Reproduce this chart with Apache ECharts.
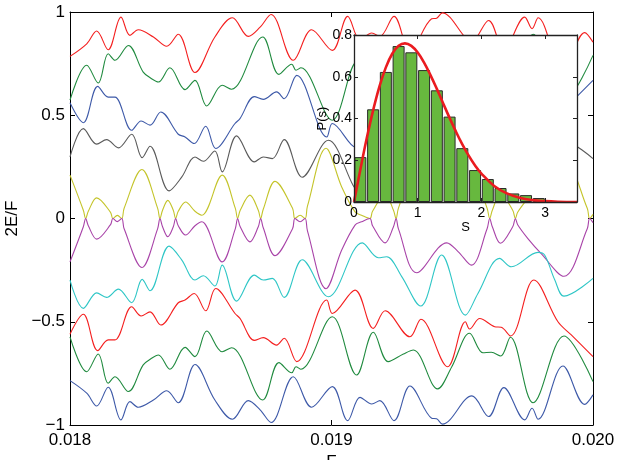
<!DOCTYPE html>
<html><head><meta charset="utf-8">
<script src="https://cdn.jsdelivr.net/npm/echarts@6/dist/echarts.min.js"></script>
<style>html,body{margin:0;padding:0;background:#fff}#c{width:618px;height:460px}</style>
</head><body><div id="c"></div>
<script>
// ---- main plot data: F values (x) and 2E/F values (y) ----
const fA = [0.018000,0.018051,0.018060,0.018070,0.018102,0.018155,0.018164,0.018181,0.018198,0.018207,0.018275,0.018335,0.018344,0.018354,0.018374,0.018395,0.018404,0.018414,0.018442,0.018478,0.018504,0.018582,0.018632,0.018641,0.018651,0.018688,0.018720,0.018729,0.018739,0.018784,0.018851,0.018860,0.018880,0.018899,0.018908,0.018979,0.019039,0.019090,0.019115,0.019147,0.019157,0.019205,0.019237,0.019247,0.019256,0.019326,0.019441,0.019484,0.019535,0.019595,0.019605,0.019615,0.019646,0.019693,0.019703,0.019712,0.019751,0.019802,0.019889,0.019978,0.019987,0.020000];
const vMagenta = [-0.21,-0.04,0,-0.035,-0.10,-0.03,0,-0.015,0,-0.05,-0.237,-0.05,0,-0.04,-0.088,-0.04,0,-0.035,-0.08,-0.035,-0.016,-0.21,-0.05,0,-0.04,-0.113,-0.04,0,-0.045,-0.18,-0.05,0,-0.016,0,-0.06,-0.34,-0.153,-0.032,-0.016,0,-0.035,-0.118,-0.04,0,-0.05,-0.263,-0.118,-0.16,-0.226,-0.05,0,-0.04,-0.12,-0.04,0,-0.03,-0.097,-0.17,-0.28,-0.05,0,-0.02];
const vYellow = [0.21,0.04,0,0.035,0.10,0.03,0,0.015,0,0.05,0.237,0.05,0,0.04,0.088,0.04,0,0.035,0.08,0.035,0.016,0.21,0.05,0,0.04,0.113,0.04,0,0.045,0.18,0.05,0,0.016,0,0.06,0.34,0.153,0.032,0.016,0,0.035,0.118,0.04,0,0.05,0.263,0.118,0.16,0.226,0.05,0,0.04,0.12,0.04,0,0.03,0.097,0.17,0.28,0.05,0,0.02];

const fB = [0.018000,0.018051,0.018102,0.018140,0.018185,0.018236,0.018276,0.018306,0.018379,0.018427,0.018478,0.018510,0.018554,0.018582,0.018637,0.018705,0.018739,0.018774,0.018819,0.018888,0.018988,0.019118,0.019179,0.019211,0.019268,0.019341,0.019421,0.019512,0.019560,0.019643,0.019688,0.019790,0.019815,0.019854,0.019889,0.020000];
const vCyan = [-0.298,-0.435,-0.36,-0.382,-0.342,-0.408,-0.295,-0.35,-0.134,-0.2,-0.298,-0.277,-0.327,-0.226,-0.40,-0.274,-0.298,-0.29,-0.382,-0.2,-0.379,-0.118,-0.19,-0.185,-0.28,-0.424,-0.177,-0.468,-0.363,-0.193,-0.234,-0.164,-0.177,-0.298,-0.376,-0.29];
const vGray = [0.298,0.435,0.36,0.382,0.342,0.408,0.295,0.35,0.134,0.2,0.298,0.277,0.327,0.226,0.40,0.274,0.298,0.29,0.382,0.2,0.379,0.118,0.19,0.185,0.28,0.424,0.177,0.468,0.363,0.193,0.234,0.164,0.177,0.298,0.376,0.29];

const fC = [0.018000,0.018051,0.018106,0.018146,0.018172,0.018236,0.018272,0.018306,0.018347,0.018414,0.018440,0.018475,0.018519,0.018557,0.018631,0.018650,0.018705,0.018739,0.018790,0.018819,0.018867,0.018982,0.019003,0.019090,0.019160,0.019205,0.019300,0.019342,0.019444,0.019512,0.019528,0.019567,0.019624,0.019649,0.019685,0.019774,0.019866,0.019917,0.020000];
const vRedLow = [-0.56,-0.464,-0.64,-0.588,-0.588,-0.427,-0.472,-0.452,-0.516,-0.408,-0.395,-0.363,-0.447,-0.339,-0.46,-0.484,-0.59,-0.577,-0.613,-0.58,-0.693,-0.395,-0.46,-0.347,-0.532,-0.447,-0.573,-0.488,-0.718,-0.5,-0.535,-0.484,-0.524,-0.527,-0.569,-0.298,-0.5,-0.564,-0.669];
const vBlueHigh = [0.56,0.464,0.64,0.588,0.588,0.427,0.472,0.452,0.516,0.408,0.395,0.363,0.447,0.339,0.46,0.484,0.59,0.577,0.613,0.58,0.693,0.395,0.46,0.347,0.532,0.447,0.573,0.488,0.718,0.5,0.535,0.484,0.524,0.527,0.569,0.298,0.5,0.564,0.669];

const fD = [0.018000,0.018064,0.018108,0.018146,0.018172,0.018223,0.018280,0.018312,0.018338,0.018382,0.018440,0.018478,0.018523,0.018582,0.018618,0.018737,0.018799,0.018848,0.018864,0.018883,0.019003,0.019096,0.019160,0.019217,0.019275,0.019313,0.019406,0.019460,0.019528,0.019579,0.019611,0.019647,0.019684,0.019771,0.019889,0.020000];
const vGreenLow = [-0.573,-0.742,-0.656,-0.798,-0.766,-0.838,-0.709,-0.677,-0.661,-0.73,-0.624,-0.669,-0.545,-0.645,-0.626,-0.879,-0.698,-0.747,-0.718,-0.73,-0.476,-0.758,-0.551,-0.693,-0.656,-0.637,-0.825,-0.718,-0.556,-0.65,-0.648,-0.666,-0.575,-0.892,-0.569,-0.79];
const vGreenHigh = [0.573,0.742,0.656,0.798,0.766,0.838,0.709,0.677,0.661,0.73,0.624,0.669,0.545,0.645,0.626,0.879,0.698,0.747,0.718,0.73,0.476,0.758,0.551,0.693,0.656,0.637,0.825,0.718,0.556,0.65,0.648,0.666,0.575,0.892,0.569,0.79];

const fE = [0.018000,0.018064,0.018102,0.018146,0.018195,0.018229,0.018261,0.018319,0.018370,0.018414,0.018478,0.018554,0.018621,0.018682,0.018727,0.018769,0.018854,0.018924,0.019003,0.019062,0.019109,0.019154,0.019185,0.019239,0.019300,0.019383,0.019402,0.019424,0.019537,0.019601,0.019659,0.019739,0.019767,0.019790,0.019885,0.019968,0.020000];
const vBlueLow = [-0.785,-0.846,-0.908,-0.817,-0.975,-0.887,-0.914,-0.879,-0.834,-0.892,-0.707,-0.879,-0.972,-0.882,-0.927,-0.988,-0.766,-0.914,-0.814,-0.979,-0.866,-0.898,-0.882,-0.979,-0.811,-0.967,-0.97,-0.996,-0.859,-0.959,-0.819,-0.975,-0.919,-0.972,-0.714,-0.9,-0.854];
const vRedHigh = [0.785,0.846,0.908,0.817,0.975,0.887,0.914,0.879,0.834,0.892,0.707,0.879,0.972,0.882,0.927,0.988,0.766,0.914,0.814,0.979,0.866,0.898,0.882,0.979,0.811,0.967,0.97,0.996,0.859,0.959,0.819,0.975,0.919,0.972,0.714,0.9,0.854];

const mainXTickLabels = ['0.018', '0.019', '0.020'];
const mainYTickLabels = ['\u22121', '\u22120.5', '0', '0.5', '1'];

// ---- inset data: level spacing histogram P(s) ----
const sCenters = [0.1,0.3,0.5,0.7,0.9,1.1,1.3,1.5,1.7,1.9,2.1,2.3,2.5,2.7,2.9];
const histP = [0.215,0.444,0.623,0.747,0.717,0.632,0.535,0.409,0.258,0.153,0.11,0.067,0.041,0.033,0.019];
const sCurve = [0,0.1,0.2,0.3,0.4,0.5,0.6,0.7,0.8,0.9,1.0,1.1,1.2,1.3,1.4,1.5,1.6,1.7,1.8,1.9,2.0,2.2,2.4,2.6,2.8,3.0,3.2,3.5];
const pCurve = [0,0.156,0.305,0.439,0.554,0.645,0.710,0.748,0.760,0.748,0.716,0.668,0.608,0.542,0.472,0.403,0.337,0.276,0.222,0.175,0.136,0.077,0.041,0.020,0.009,0.004,0.0015,0.0003];
const insetXTickLabels = ['0', '1', '2', '3'];
const insetYTickLabels = ['0', '0.2', '0.4', '0.6', '0.8'];

const FONT = 'Liberation Sans, Arial, Helvetica, sans-serif';
const pairs = (f, v) => f.map((x, i) => [x, v[i]]);
const mainLine = (name, f, v, color) => ({
  name, type: 'line', xAxisIndex: 0, yAxisIndex: 0, data: pairs(f, v),
  symbol: 'none', showSymbol: false, smooth: 0.35,
  lineStyle: { color, width: 1.1 }, itemStyle: { color }, z: 2
});
const tickIdx = (labels, min, step) => (v) => {
  const i = Math.round((v - min) / step);
  return (Math.abs(v - (min + i * step)) < step * 1e-3 && labels[i] !== undefined) ? labels[i] : '';
};

const COL = {
  red: '#f41f1f', green: '#1f8a3e', blue: '#3d59a8', gray: '#5a5a5a',
  yellow: '#c4c42a', magenta: '#a843a8', cyan: '#2ec6c6'
};

const axisBase = {
  axisLine: { show: true, onZero: false, lineStyle: { color: '#000', width: 1 } },
  axisTick: { show: true, inside: true, length: 5, lineStyle: { color: '#000' } },
  splitLine: { show: false }
};
const insetAxisBase = {
  axisLine: { show: true, onZero: false, lineStyle: { color: '#222', width: 1.3 } },
  axisTick: { show: true, inside: true, length: 4, lineStyle: { color: '#222' } },
  splitLine: { show: false }, z: 20
};

const option = {
  animation: false,
  backgroundColor: '#fff',
  textStyle: { fontFamily: FONT },
  grid: [
    { left: 70, right: 25, top: 12, bottom: 35, show: false, containLabel: false, outerBoundsMode: 'none' },
    { left: 354, right: 41, top: 35, bottom: 258, show: true, backgroundColor: '#fff', borderWidth: 0, z: 10, containLabel: false, outerBoundsMode: 'none' }
  ],
  xAxis: [
    Object.assign({}, axisBase, {
      type: 'value', gridIndex: 0, position: 'bottom', min: 0.018, max: 0.020, interval: 0.001,
      name: 'F', nameLocation: 'middle', nameGap: 25,
      nameTextStyle: { fontSize: 17, color: '#000', fontFamily: FONT },
      axisLabel: { fontSize: 17, color: '#000', margin: 7, fontFamily: FONT, formatter: tickIdx(mainXTickLabels, 0.018, 0.001) }
    }),
    Object.assign({}, axisBase, {
      type: 'value', gridIndex: 0, position: 'top', min: 0.018, max: 0.020, interval: 0.001,
      axisLabel: { show: false }
    }),
    Object.assign({}, insetAxisBase, {
      type: 'value', gridIndex: 1, position: 'bottom', min: 0, max: 3.5, interval: 1,
      name: 'S', nameLocation: 'middle', nameGap: 17,
      nameTextStyle: { fontSize: 13, color: '#000', fontFamily: FONT },
      axisLabel: { fontSize: 14, color: '#000', margin: 4, fontFamily: FONT, formatter: tickIdx(insetXTickLabels, 0, 1) }
    }),
    Object.assign({}, insetAxisBase, {
      type: 'value', gridIndex: 1, position: 'top', min: 0, max: 3.5, interval: 1,
      axisLabel: { show: false }
    })
  ],
  yAxis: [
    Object.assign({}, axisBase, {
      type: 'value', gridIndex: 0, position: 'left', min: -1, max: 1, interval: 0.5,
      name: '2E/F', nameLocation: 'middle', nameGap: 43,
      nameTextStyle: { fontSize: 17, color: '#000', fontFamily: FONT },
      axisLabel: { fontSize: 17, color: '#000', margin: 5, fontFamily: FONT, formatter: tickIdx(mainYTickLabels, -1, 0.5) }
    }),
    Object.assign({}, axisBase, {
      type: 'value', gridIndex: 0, position: 'right', min: -1, max: 1, interval: 0.5,
      axisLabel: { show: false }
    }),
    Object.assign({}, insetAxisBase, {
      type: 'value', gridIndex: 1, position: 'left', min: 0, max: 0.8, interval: 0.2,
      name: 'P(s)', nameLocation: 'middle', nameGap: 25,
      nameTextStyle: { fontSize: 13, color: '#000', fontFamily: FONT },
      axisLabel: { fontSize: 14, color: '#000', margin: 2, fontFamily: FONT, formatter: tickIdx(insetYTickLabels, 0, 0.2) }
    }),
    Object.assign({}, insetAxisBase, {
      type: 'value', gridIndex: 1, position: 'right', min: 0, max: 0.8, interval: 0.2,
      axisLabel: { show: false }
    })
  ],
  series: [
    mainLine('red-high', fE, vRedHigh, COL.red),
    mainLine('green-high', fD, vGreenHigh, COL.green),
    mainLine('blue-high', fC, vBlueHigh, COL.blue),
    mainLine('gray', fB, vGray, COL.gray),
    mainLine('yellow', fA, vYellow, COL.yellow),
    mainLine('magenta', fA, vMagenta, COL.magenta),
    mainLine('cyan', fB, vCyan, COL.cyan),
    mainLine('red-low', fC, vRedLow, COL.red),
    mainLine('green-low', fD, vGreenLow, COL.green),
    mainLine('blue-low', fE, vBlueLow, COL.blue),
    {
      name: 'hist', type: 'bar', xAxisIndex: 2, yAxisIndex: 2,
      data: pairs(sCenters, histP), barWidth: 12,
      itemStyle: { color: '#67b83e', borderColor: '#2a2a2a', borderWidth: 1 }, z: 12
    },
    {
      name: 'wigner', type: 'line', xAxisIndex: 2, yAxisIndex: 2,
      data: pairs(sCurve, pCurve), symbol: 'none', showSymbol: false, smooth: 0.4,
      lineStyle: { color: '#ea1b1f', width: 2.6 }, z: 13
    }
  ]
};
const chart = echarts.init(document.getElementById('c'), null, { renderer: 'canvas' });
chart.setOption(option);
</script>
</body></html>
